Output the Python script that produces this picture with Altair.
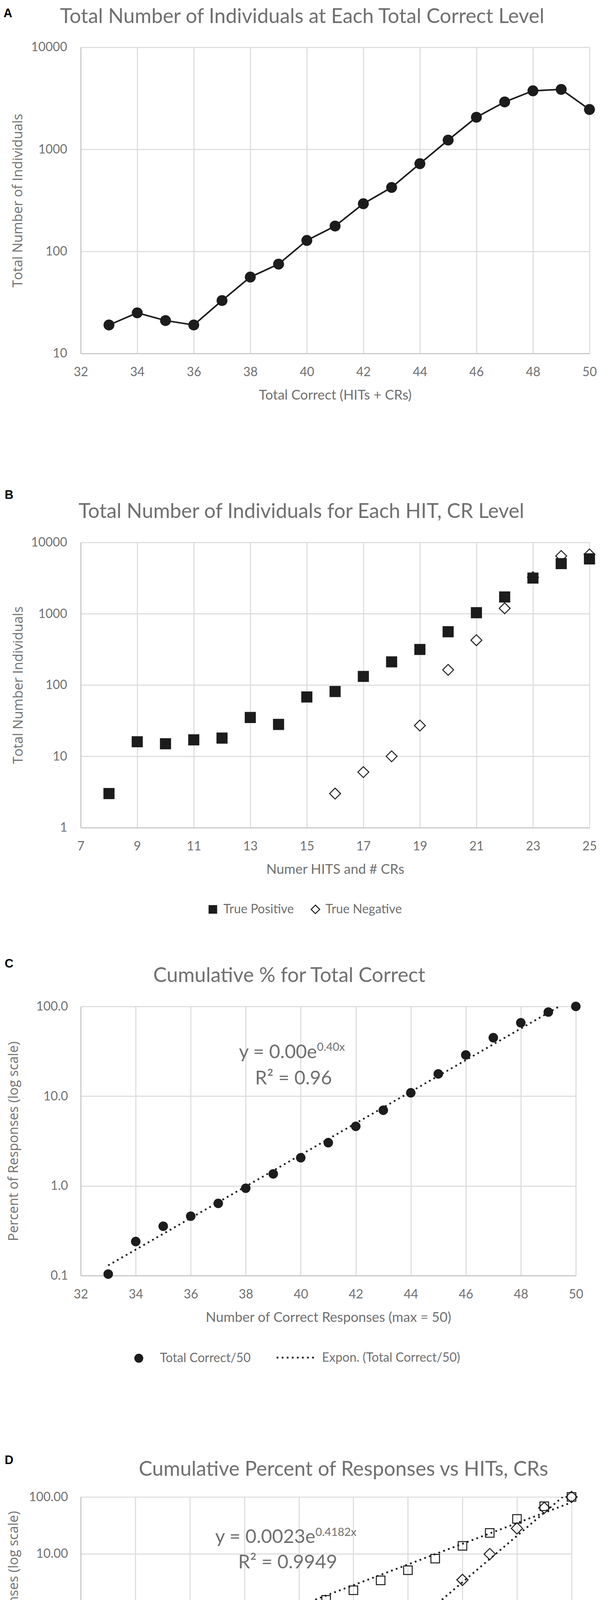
import json
import altair as alt
import pandas as pd

# ---------------- data ----------------
panel_letters = ["A", "B", "C", "D"]
panel_titles = [
    "Total Number of Individuals at Each Total Correct Level",
    "Total Number of Individuals for Each HIT, CR Level",
    "Cumulative % for Total Correct",
    "Cumulative Percent of Responses vs HITs, CRs",
]
x_titles = ["Total Correct (HITs + CRs)", "Numer HITS and # CRs",
            "Number of Correct Responses (max = 50)", "Number of HITs, CRs"]
y_titles = ["Total Number of Individuals", "Total Number Individuals",
            "Percent of Responses (log scale)", "Percent of Responses (log scale)"]

# Panel A
a_correct = list(range(33, 51))
a_count = [19, 25, 21, 19, 33, 56, 75, 128, 177, 293, 423, 723, 1231, 2061, 2911, 3740, 3862, 2455]
a_xticks = list(range(32, 51, 2))
a_yticks = [10, 100, 1000, 10000]

# Panel B
b_series = ["True Positive", "True Negative"]
b_tp_x = list(range(8, 26))
b_tp_count = [3, 16, 15, 17, 18, 35, 28, 68, 81, 132, 211, 315, 558, 1033, 1718, 3160, 5040, 5870]
b_tn_x = list(range(16, 26))
b_tn_count = [3, 6, 10, 27, 163, 425, 1190, 3250, 6440, 6780]
b_xticks = list(range(7, 26, 2))
b_yticks = [1, 10, 100, 1000, 10000]

# Panel C
c_series = ["Total Correct/50", "Expon. (Total Correct/50)"]
c_correct = list(range(33, 51))
c_pct = [0.104, 0.240, 0.355, 0.460, 0.638, 0.942, 1.36, 2.06, 3.03, 4.61, 6.97, 10.9,
         17.7, 28.8, 44.8, 65.7, 86.5, 100.0]
c_xticks = list(range(32, 51, 2))
c_yticks = [0.1, 1, 10, 100]
c_equation = ["y = 0.00e", "0.40x", "R² = 0.96"]

# Panel D
d_series = ["HITs", "Correct Rejections"]
d_trend = ["Expon. (HITs)", "Expon. (Correct Rejections)"]
d_hits_x = list(range(9, 26))
d_hits_pct = [0.101, 0.188, 0.280, 0.380, 0.573, 0.716, 1.09, 1.55, 2.29, 3.41, 5.14, 8.22,
              13.8, 23.3, 41.1, 68.5, 100.0]
d_cr_x = list(range(16, 26))
d_cr_pct = [0.0449, 0.078, 0.132, 0.277, 1.16, 3.48, 9.9, 28.0, 64.3, 100.0]
d_xticks = list(range(7, 26, 2))
d_yticks = [0.01, 0.1, 1, 10, 100]
d_equations = [["y = 0.0023e", "0.4182x", "R² = 0.9949"],
               ["y = 8E-09e", "0.9402x", "R² = 0.9489"]]

# ---------------- style ----------------
FONT = "Lato"
YFONT = "Open Sans"
LFONT = "Liberation Sans"
TXT = "#707070"
INK = "#1c1c1c"
GRID = "#d9d9d9"
DOMAIN = "#c4c4c4"
TITLE_SIZE = 52
TICK_SIZE = 32
XT_SIZE = 35
YT_SIZE = 34.5
LEG_SIZE = 32
EQ_SIZE = 49
SUP_SIZE = 29
DOTS = [4.5, 8.5]
LEFT_EXT = 199

LAY = {
    "A": dict(T=114, W=1305, H=786, top=8, bottom=1150),
    "B": dict(T=1383, W=1305, H=732, top=1150, bottom=2400),
    "C": dict(T=2572, W=1270, H=691, top=2400, bottom=3650),
    "D": dict(T=3829, W=1259, H=584, top=3650, bottom=4706),
}

CH = ["shape", "opacity", "strokeDash", "strokeWidth", "color"]
INDEP = {c: "independent" for c in CH}


def txt(s, x, y, size, font=FONT, align="center", color=TXT, weight="normal"):
    return alt.Chart(pd.DataFrame({"t": [s]})).mark_text(
        align=align, baseline="alphabetic", font=font, fontSize=size,
        color=color, fontWeight=weight
    ).encode(text="t:N", x=alt.value(x), y=alt.value(y))


def frame(key, letter, title, title_x, title_y, letter_x, letter_y):
    lay = LAY[key]
    # background-coloured hairline that fixes the panel's extent in the column
    bound = alt.Chart(pd.DataFrame({"k": [0]})).mark_rule(color="white", strokeWidth=1).encode(
        x=alt.value(-LEFT_EXT + 0.5),
        y=alt.value(-(lay["T"] - lay["top"])),
        y2=alt.value(lay["bottom"] - lay["T"]),
    )
    return [
        bound,
        txt(letter, letter_x, letter_y, 31, font=LFONT, align="left", color="black", weight="bold"),
        txt(title, title_x, title_y, TITLE_SIZE),
    ]


def axes(key, xdom, xticks, xtitle, ydom, yticks, ytitle, yfmt, ytitle_x, ylabpad):
    lay = LAY[key]
    x = alt.X("x:Q", scale=alt.Scale(domain=xdom, nice=False, zero=False),
              axis=alt.Axis(values=xticks, format="d", grid=True, gridColor=GRID, gridWidth=2.5,
                            domainColor=DOMAIN, domainWidth=2.5, ticks=False,
                            labelFont=FONT, labelFontSize=TICK_SIZE, labelColor=TXT,
                            labelPadding=58, labelBaseline="alphabetic",
                            labelOverlap=False, labelFlush=False,
                            title=xtitle, titleFont=FONT, titleFontSize=XT_SIZE, titleColor=TXT,
                            titleFontWeight="normal", titleY=118, titleBaseline="alphabetic",
                            titleX=lay["W"] / 2, titleAlign="center"))
    y = alt.Y("y:Q", scale=alt.Scale(type="log", domain=ydom, nice=False),
              axis=alt.Axis(values=yticks, format=yfmt, grid=True, gridColor=GRID, gridWidth=2.5,
                            domainColor=DOMAIN, domainWidth=2.5, ticks=False,
                            labelFont=FONT, labelFontSize=TICK_SIZE, labelColor=TXT,
                            labelPadding=ylabpad, labelOverlap=False, labelFlush=False,
                            title=ytitle, titleFont=YFONT, titleFontSize=YT_SIZE, titleColor=TXT,
                            titleFontWeight="normal", titleAngle=270, titleBaseline="middle",
                            titleAlign="center", titleX=ytitle_x, titleY=lay["H"] / 2))
    return x, y


def legend(lx, ly, size, label_offset, stype, stroke_w=2.5, fill=None, dash=None):
    kw = dict(orient="none", legendX=lx, legendY=ly, direction="horizontal", title=None,
              labelFont=FONT, labelFontSize=LEG_SIZE, labelColor=TXT, labelOffset=label_offset,
              symbolSize=size, symbolStrokeWidth=stroke_w, symbolStrokeColor=INK,
              symbolType=stype, labelLimit=700)
    if fill is not None:
        kw["symbolFillColor"] = fill
    if dash is not None:
        kw["symbolDash"] = dash
    return alt.Legend(**kw)


def one(name, value, kind=None):
    if kind:
        return alt.Scale(type=kind, domain=[name], range=[value])
    return alt.Scale(domain=[name], range=[value])


# ---------------- Panel A ----------------
dfa = pd.DataFrame({"x": a_correct, "y": a_count})
xa, ya = axes("A", [32, 50], a_xticks, x_titles[0], [10, 10000], a_yticks, y_titles[0], "d", -160, 35)
a_line = alt.Chart(dfa).mark_line(color=INK, strokeWidth=4).encode(x=xa, y=ya)
a_pts = alt.Chart(dfa).mark_circle(color=INK, size=784, opacity=1).encode(x=xa, y=ya)
panelA = alt.layer(
    *frame("A", panel_letters[0], panel_titles[0], 568, -62, -198, -77),
    a_line, a_pts
).properties(width=LAY["A"]["W"], height=LAY["A"]["H"])

# ---------------- Panel B ----------------
dfb_tp = pd.DataFrame({"x": b_tp_x, "y": b_tp_count, "s": b_series[0]})
dfb_tn = pd.DataFrame({"x": b_tn_x, "y": b_tn_count, "s": b_series[1]})
xb, yb = axes("B", [7, 25], b_xticks, x_titles[1], [1, 10000], b_yticks, y_titles[1], "d", -159, 35)
b_tn_pts = alt.Chart(dfb_tn).mark_point(shape="diamond", size=784, filled=False,
                                        strokeWidth=2.5, fill="white", fillOpacity=1, opacity=1).encode(
    x=xb, y=yb,
    color=alt.Color("s:N", scale=one(b_series[1], INK),
                    legend=legend(586, 926, 484, 10, "diamond", fill="white")),
)
b_tp_pts = alt.Chart(dfb_tp).mark_point(shape="square", size=676, filled=True, color=INK,
                                        stroke=INK, strokeWidth=2.5, opacity=1).encode(
    x=xb, y=yb,
    shape=alt.Shape("s:N", scale=one(b_series[0], "square"),
                    legend=legend(323, 926, 484, 11, "square", fill=INK)),
)
panelB = alt.layer(
    *frame("B", panel_letters[1], panel_titles[1], 566, -63, -195, -112),
    b_tn_pts, b_tp_pts
).resolve_scale(**INDEP).resolve_legend(**INDEP).properties(width=LAY["B"]["W"], height=LAY["B"]["H"])

# ---------------- Panel C ----------------
dfc = pd.DataFrame({"x": c_correct, "y": c_pct, "s": c_series[0]})
xc, yc = axes("C", [32, 50], c_xticks, x_titles[2], [0.1, 100], c_yticks, y_titles[2], ".1f", -171, 33)
c_trend = alt.Chart(dfc).transform_calculate(ly="log(datum.y)").transform_regression(
    "x", "ly", method="linear", extent=[c_correct[0], c_correct[-1]]
).transform_calculate(y="exp(datum.ly)", trend=json.dumps(c_series[1])).mark_line(
    color=INK, strokeWidth=4.5, clip=True
).encode(
    x=xc, y=yc,
    strokeDash=alt.StrokeDash("trend:N", scale=one(c_series[1], DOTS),
                              legend=legend(500, 849, 10000, 14, "stroke", stroke_w=4.5)),
)
c_pts = alt.Chart(dfc).mark_point(filled=True, color=INK, size=600, opacity=1).encode(
    x=xc, y=yc,
    shape=alt.Shape("s:N", scale=one(c_series[0], "circle"),
                    legend=legend(133, 887, 529, 38, "circle", stroke_w=0, fill=INK)),
)
panelC = alt.layer(
    *frame("C", panel_letters[2], panel_titles[2], 535, -63, -195, -100),
    c_trend, c_pts,
    txt(c_equation[0], 606, 133, EQ_SIZE, align="right"),
    txt(c_equation[1], 606, 114, SUP_SIZE, align="left"),
    txt(c_equation[2], 546, 200, EQ_SIZE),
).resolve_scale(**INDEP).resolve_legend(**INDEP).properties(width=LAY["C"]["W"], height=LAY["C"]["H"])

# ---------------- Panel D ----------------
dfd_h = pd.DataFrame({"x": d_hits_x, "y": d_hits_pct, "s": d_series[0]})
dfd_c = pd.DataFrame({"x": d_cr_x, "y": d_cr_pct, "s": d_series[1]})
xd, yd = axes("D", [7, 25], d_xticks, x_titles[3], [0.01, 100], d_yticks, y_titles[3], ".2f", -171, 33)


def d_trend_layer(df, name):
    return alt.Chart(df).transform_calculate(ly="log(datum.y)").transform_regression(
        "x", "ly", method="linear"
    ).transform_calculate(y="exp(datum.ly)", trend=json.dumps(name))


d_tr_h = d_trend_layer(dfd_h, d_trend[0]).mark_line(color=INK, strokeWidth=4.5, clip=True).encode(
    x=xd, y=yd,
    strokeDash=alt.StrokeDash("trend:N", scale=one(d_trend[0], DOTS),
                              legend=legend(29, 809, 10000, 16, "stroke", stroke_w=4.5)),
)
d_tr_c = d_trend_layer(dfd_c, d_trend[1]).mark_line(color=INK, strokeWidth=4.5, clip=True).encode(
    x=xd, y=yd,
    opacity=alt.Opacity("trend:N", scale=one(d_trend[1], 1, "ordinal"),
                        legend=legend(548, 809, 10000, 16, "stroke", stroke_w=4.5, dash=DOTS)),
    strokeDash=alt.value(DOTS),
)
d_h_pts = alt.Chart(dfd_h).mark_point(filled=False, color=INK, strokeWidth=2.5, size=484, opacity=1).encode(
    x=xd, y=yd,
    shape=alt.Shape("s:N", scale=one(d_series[0], "square"),
                    legend=legend(70, 781, 441, 53, "square", fill="white")),
)
d_c_pts = alt.Chart(dfd_c).mark_point(shape="diamond", filled=False, strokeWidth=2.5, size=841, opacity=1).encode(
    x=xd, y=yd,
    color=alt.Color("s:N", scale=one(d_series[1], INK),
                    legend=legend(590, 781, 441, 52, "diamond", fill="white")),
)
panelD = alt.layer(
    *frame("D", panel_letters[3], panel_titles[3], 674, -54, -195, -84),
    d_tr_h, d_tr_c, d_h_pts, d_c_pts,
    txt(d_equations[0][0], 602, 118, EQ_SIZE, align="right"),
    txt(d_equations[0][1], 602, 100, SUP_SIZE, align="left"),
    txt(d_equations[0][2], 531, 183, EQ_SIZE),
    txt(d_equations[1][0], 1102, 458, EQ_SIZE, align="right"),
    txt(d_equations[1][1], 1102, 439, SUP_SIZE, align="left"),
    txt(d_equations[1][2], 1049, 521, EQ_SIZE),
).resolve_scale(**INDEP).resolve_legend(**INDEP).properties(width=LAY["D"]["W"], height=LAY["D"]["H"])

chart = alt.vconcat(panelA, panelB, panelC, panelD, spacing=0).resolve_scale(
    **INDEP
).resolve_legend(**INDEP).properties(
    padding=0, background="white",
    autosize=alt.AutoSizeParams(type="pad", resize=True),
).configure_view(strokeWidth=0)

chart.save("out.html", embed_options={"renderer": "svg", "actions": False})
